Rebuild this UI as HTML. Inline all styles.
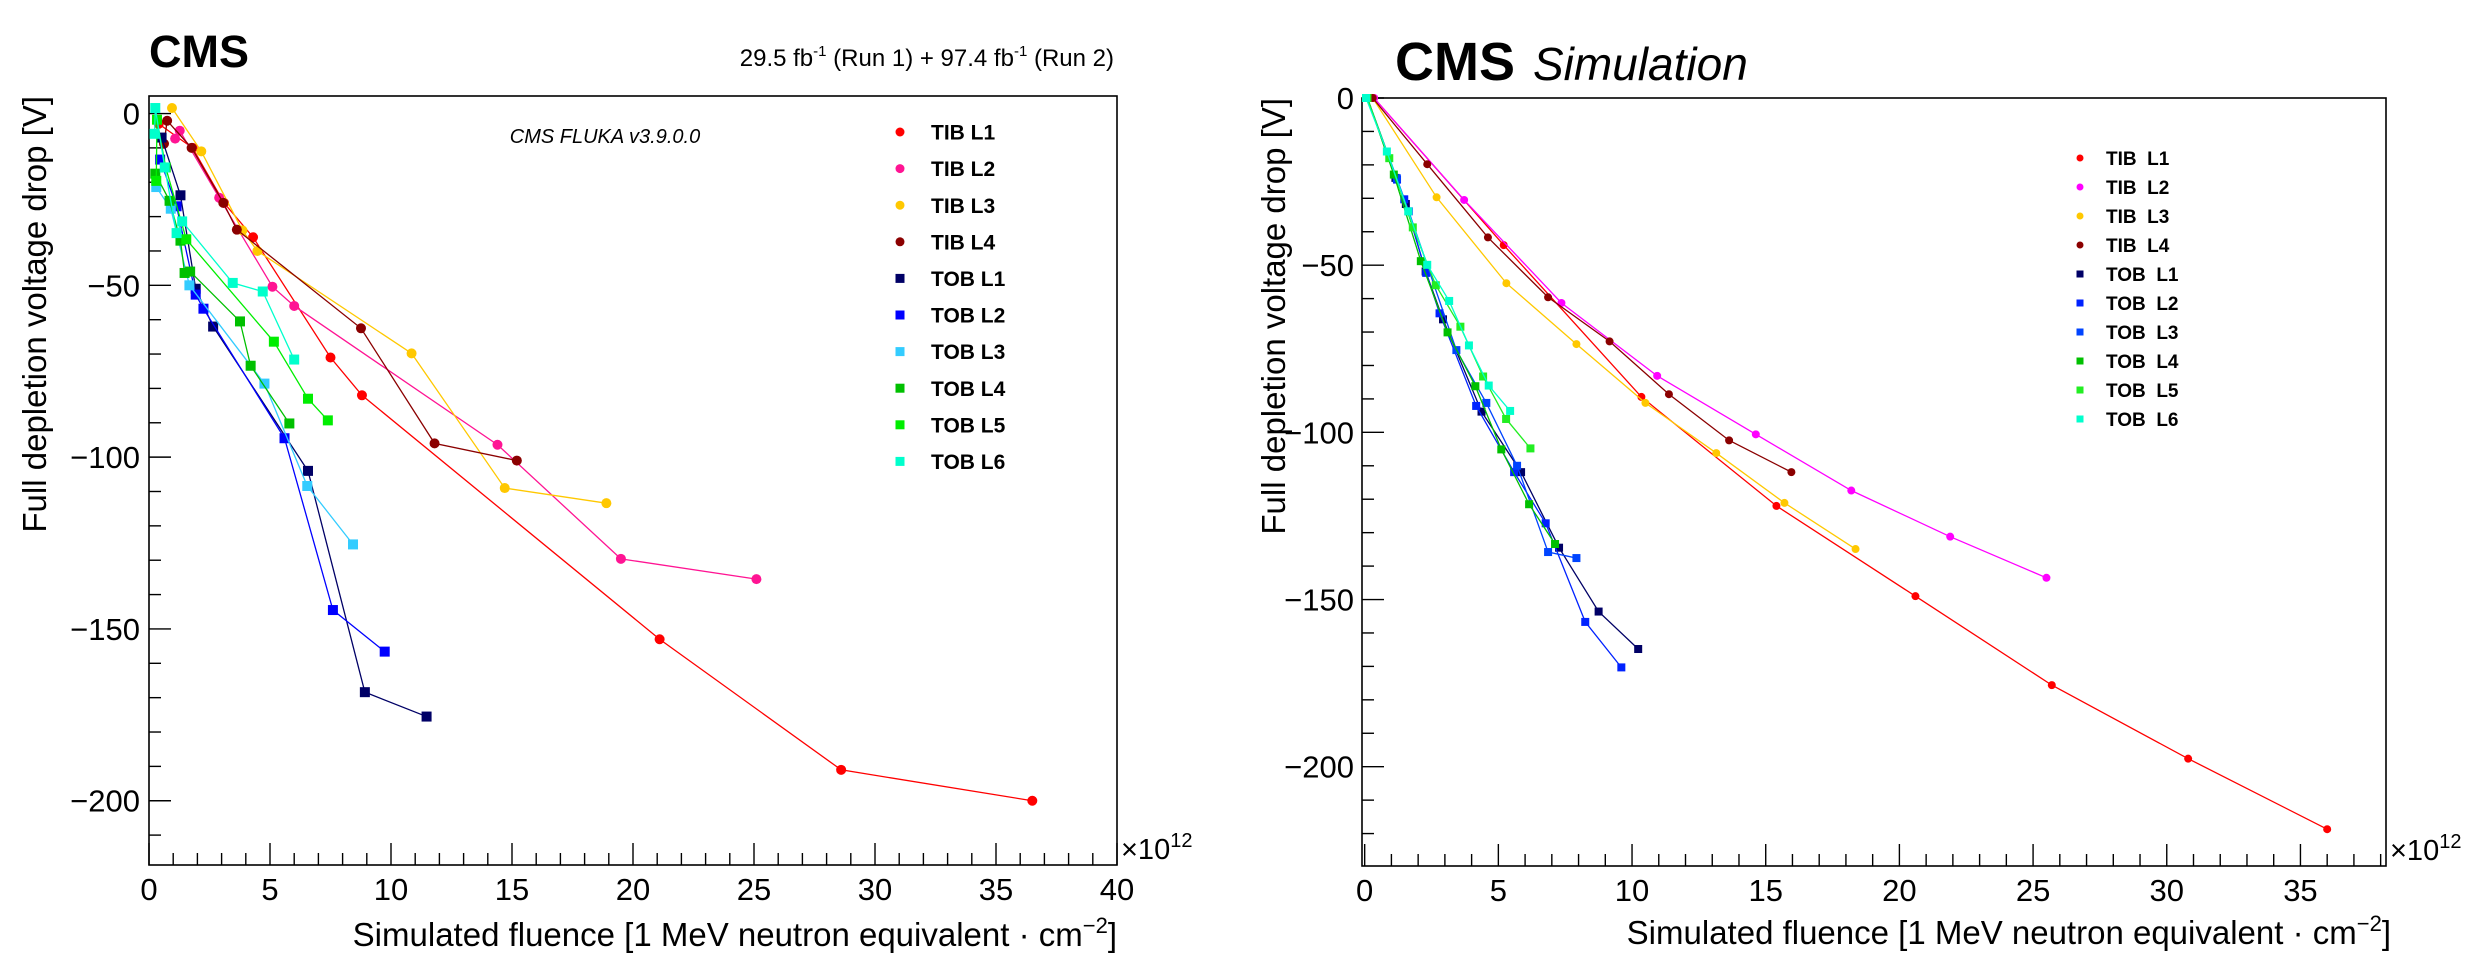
<!DOCTYPE html>
<html><head><meta charset="utf-8"><title>CMS full depletion voltage drop</title>
<style>html,body{margin:0;padding:0;background:#fff}svg{display:block;font-family:"Liberation Sans",sans-serif}</style></head>
<body>
<svg id="fig" width="2466" height="957" viewBox="0 0 2466 957" xmlns="http://www.w3.org/2000/svg"></svg>
<script>
// ---------- data: left panel (measured) ----------
const seriesNames = ["TIB L1","TIB L2","TIB L3","TIB L4","TOB L1","TOB L2","TOB L3","TOB L4","TOB L5","TOB L6"];
const leftColors = ["#ff0000","#ff1493","#ffc800","#8b0000","#000066","#0000ff","#33ccff","#00c000","#00ee00","#00ffcc"];
const rightColors = ["#ff0000","#ff00ff","#ffc800","#8b0000","#000066","#0022ff","#0044ff","#00c000","#22ee22","#00ffcc"];
const leftX = [
 [0.4,1.8,3.1,4.3,7.5,8.8,21.1,28.6,36.5],
 [1.08,1.27,2.9,5.1,6.0,14.4,19.5,25.1],
 [0.95,2.16,3.86,4.48,10.85,14.7,18.9],
 [0.62,0.75,1.76,3.07,3.63,8.76,11.8,15.2],
 [0.52,1.3,1.93,2.65,6.57,8.92,11.47],
 [0.46,1.14,1.93,2.25,5.6,7.6,9.74],
 [0.3,0.9,1.67,4.77,6.54,8.43],
 [0.26,0.85,1.3,1.47,1.7,3.76,4.2,5.8],
 [0.33,0.3,0.69,1.54,5.16,6.57,7.39],
 [0.26,0.23,0.65,1.14,1.37,3.46,4.7,6.0]
];
const leftY = [
 [-3,-10,-26,-36,-71,-82,-153,-191,-200],
 [-7.3,-5,-24.5,-50.4,-56,-96.4,-129.6,-135.5],
 [1.6,-11,-34,-40,-69.8,-109,-113.4],
 [-8.8,-2.1,-10,-26,-33.8,-62.5,-96,-101],
 [-7,-23.8,-51,-62,-104,-168.4,-175.5],
 [-13.4,-27,-52.7,-56.8,-94.5,-144.5,-156.6],
 [-21.4,-27.7,-50,-78.6,-108.4,-125.4],
 [-17.5,-25.4,-37,-46.4,-46,-60.5,-73.4,-90.2],
 [-1.8,-19.6,-15.7,-36.6,-66.4,-83,-89.3],
 [1.6,-5.9,-15.7,-34.8,-31.4,-49.3,-51.8,-71.6]
];
// ---------- data: right panel (simulation) ----------
const rightX = [
 [0.35,5.2,10.35,15.4,20.6,25.7,30.8,36.0],
 [0.35,3.72,7.36,10.94,14.63,18.2,21.9,25.5],
 [0.3,2.69,5.3,7.92,10.5,13.15,15.7,18.36],
 [0.3,2.34,4.61,6.86,9.16,11.38,13.63,15.96],
 [0.1,1.15,1.54,2.28,2.93,4.37,5.85,7.27,8.75,10.23],
 [0.1,1.21,1.48,2.3,2.8,4.17,5.59,6.77,8.25,9.6],
 [0.1,1.2,1.65,3.43,4.55,5.7,6.86,7.92],
 [0.1,1.09,2.1,3.1,4.14,5.11,6.15,7.12],
 [0.1,0.92,1.8,2.66,3.58,4.43,5.29,6.2],
 [0.05,0.83,1.63,2.34,3.16,3.9,4.64,5.44]
];
const rightY = [
 [0,-44,-89.4,-122,-149,-175.6,-197.6,-218.7],
 [0,-30.5,-61.3,-83.1,-100.6,-117.4,-131.2,-143.5],
 [0,-29.7,-55.4,-73.6,-91.2,-106.2,-121.1,-134.9],
 [0,-19.8,-41.7,-59.6,-72.8,-88.6,-102.4,-111.9],
 [0,-23.9,-31.7,-51.9,-66.2,-93.8,-111.9,-134.5,-153.6,-164.8],
 [0,-24.4,-30.3,-52.3,-64.4,-92.1,-111.9,-127.2,-156.7,-170.3],
 [0,-24,-33.9,-75.4,-91.2,-110,-135.8,-137.6],
 [0,-22.9,-48.8,-70.1,-86.2,-105.1,-121.5,-133.4],
 [0,-18,-38.7,-56,-68.4,-83.3,-96,-104.8],
 [0,-16,-33.9,-49.9,-60.7,-74,-86,-93.6]
];
const leftXTicks = [0,5,10,15,20,25,30,35,40];
const leftYTicks = [0,-50,-100,-150,-200];
const rightXTicks = [0,5,10,15,20,25,30,35];
const rightYTicks = [0,-50,-100,-150,-200];

const NS="http://www.w3.org/2000/svg";
const svg=document.getElementById('fig');
function mk(tag,attrs,parent){const e=document.createElementNS(NS,tag);for(const k in attrs)e.setAttribute(k,attrs[k]);(parent||svg).appendChild(e);return e;}

function drawPanel(p){
  const g=mk('g',{});
  
  
  const sx=v=>p.x0+(v-p.xmin)/(p.xmax-p.xmin)*(p.x1-p.x0);
  const sy=v=>p.y0+(p.ymax-v)/(p.ymax-p.ymin)*(p.y1-p.y0);
  const frame=mk('rect',{x:p.x0,y:p.y0,width:p.x1-p.x0,height:p.y1-p.y0,fill:'none',stroke:'#000','stroke-width':1.6},g);
  
  
  // x ticks
  for(let v=Math.ceil(p.xmin);v<=p.xmax;v+=1){
    const major=(v%5===0);const L=major?22:12;
    mk('line',{x1:sx(v),x2:sx(v),y1:p.y1,y2:p.y1-L,stroke:'#000','stroke-width':1.4},g);
  }
  for(let v=Math.ceil(p.ymin/10)*10;v<=p.ymax;v+=10){
    const major=(v%50===0);const L=major?22:12;
    mk('line',{x1:p.x0,x2:p.x0+L,y1:sy(v),y2:sy(v),stroke:'#000','stroke-width':1.4},g);
  }
  p.xt.forEach(v=>{const t=mk('text',{x:sx(v),y:p.y1+35,'text-anchor':'middle','font-size':31},g);t.textContent=v;
    });
  p.yt.forEach(v=>{const t=mk('text',{x:p.ylabX,y:sy(v)+11,'text-anchor':'end','font-size':31},g);t.textContent=v<0?'\u2212'+(-v):v;
    });
  const ex=mk('text',{x:p.x1+4,y:p.y1-6,'font-size':29},g);ex.innerHTML='×10<tspan dy="-12" font-size="20">12</tspan>';
  
  const xt=mk('text',{x:p.xtitleX,y:p.xtitleY,'text-anchor':'end','font-size':33},g);
  xt.innerHTML='Simulated fluence [1 MeV neutron equivalent · cm<tspan dy="-13" font-size="22">−2</tspan><tspan dy="13">]</tspan>';
  
  const yt=mk('text',{transform:`translate(${p.ytitleX},${p.y0}) rotate(-90)`,'text-anchor':'end','font-size':33},g);
  yt.textContent='Full depletion voltage drop [V]';
  
  // series
  seriesNames.forEach((nm,i)=>{
    const xs=p.X[i],ys=p.Y[i],col=p.colors[i];
    const idx=xs.map((_,k)=>k).sort((a,b)=>xs[a]-xs[b]);
    const sg=mk('g',{},g);
    
    
    const pl=mk('polyline',{points:idx.map(k=>sx(xs[k])+','+sy(ys[k])).join(' '),fill:'none',stroke:col,'stroke-width':1.3},sg);
    
    const isTIB=i<4;
    idx.forEach(k=>{
      let m;
      if(isTIB){m=mk('circle',{cx:sx(xs[k]),cy:sy(ys[k]),r:p.ms/2,fill:col},sg);}
      else{m=mk('rect',{x:sx(xs[k])-p.ms/2,y:sy(ys[k])-p.ms/2,width:p.ms,height:p.ms,fill:col},sg);}
      
    });
    // legend
    const ly=p.legY+p.legDy*i;
    let lm;
    if(isTIB) lm=mk('circle',{cx:p.legMX,cy:ly,r:p.lms/2,fill:col},g);
    else lm=mk('rect',{x:p.legMX-p.lms/2,y:ly-p.lms/2,width:p.lms,height:p.lms,fill:col},g);
    
    const lt=mk('text',{x:p.legTX,y:ly+p.legFs*0.36,'font-size':p.legFs,'font-weight':'bold'},g);
    lt.textContent=p.legSep?nm.replace(' ','\u00a0\u00a0'):nm;
    
  });
}

drawPanel({name:'left-panel',x0:149,x1:1117,y0:96,y1:865,xmin:0,xmax:40,ymin:-218.7,ymax:5.1,
  X:leftX,Y:leftY,colors:leftColors,xt:leftXTicks,yt:leftYTicks,ylabX:140,ms:10,lms:9,
  legMX:900,legTX:931,legY:132,legDy:36.6,legFs:21,legSep:false,
  xtitleX:1117,xtitleY:946,ytitleX:46});
drawPanel({name:'right-panel',x0:1362,x1:2386,y0:98,y1:866,xmin:-0.1,xmax:38.2,ymin:-229.7,ymax:0,
  X:rightX,Y:rightY,colors:rightColors,xt:rightXTicks,yt:rightYTicks,ylabX:1354,ms:8,lms:7,
  legMX:2080,legTX:2106,legY:158,legDy:29,legFs:19,legSep:true,
  xtitleX:2391,xtitleY:944,ytitleX:1285});

function txt(x,y,s,attrs,name){const t=mk('text',Object.assign({x:x,y:y},attrs));t.innerHTML=s;
  return t;}
txt(149,67,'CMS',{'font-size':45,'font-weight':'bold'},'cms-label-left');
txt(1114,66,'29.5 fb<tspan dy="-10" font-size="15">-1</tspan><tspan dy="10"> (Run 1) + 97.4 fb</tspan><tspan dy="-10" font-size="15">-1</tspan><tspan dy="10"> (Run 2)</tspan>',{'font-size':24,'text-anchor':'end'},'luminosity-label');
txt(605,143,'CMS FLUKA v3.9.0.0',{'font-size':20,'font-style':'italic','text-anchor':'middle'},'fluka-version-label');
txt(1395,80,'CMS',{'font-size':54,'font-weight':'bold'},'cms-label-right');
txt(1533,80,'Simulation',{'font-size':46,'font-style':'italic'},'simulation-label');
</script>
</body></html>
